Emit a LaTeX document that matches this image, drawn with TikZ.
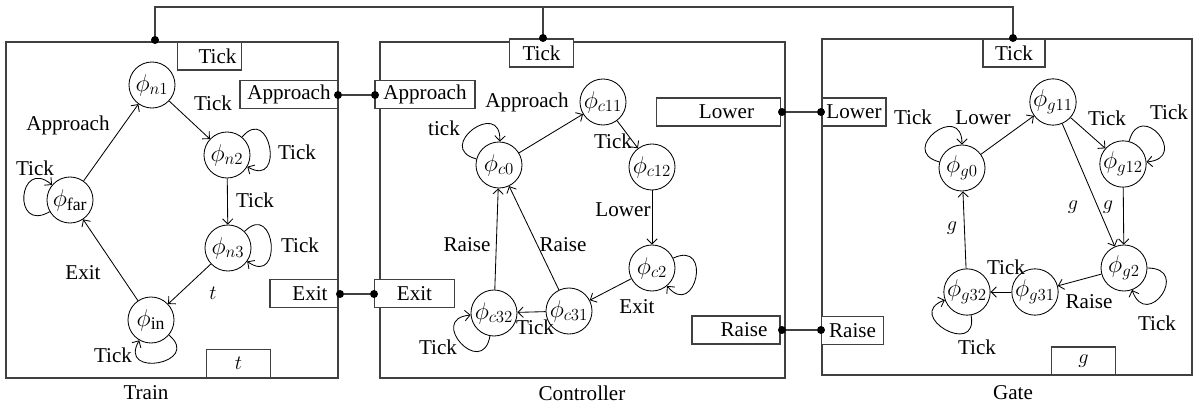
\documentclass[tikz,border=0pt]{standalone}
\usepackage{fontspec}
\setmainfont{Liberation Serif}
\usetikzlibrary{arrows.meta}

\begin{document}
\begin{tikzpicture}
      [%%%%%%%%%%%%%%%%%%%%%%%%%%%%%%
      x=0.025cm,y=-0.025cm,
      every node/.style={font=\fontsize{15}{17}\selectfont},
      comp/.style={rectangle,draw=black!75,line width=0.8pt,minimum height=8.4cm},
      port/.style={rectangle,draw=black!75,line width=0.8pt,fill=white,minimum height=0.7cm,inner sep=1pt},
      state/.style={circle,draw=black,line width=0.6pt,minimum size=1.15cm,inner sep=0pt,font=\fontsize{18}{20}\selectfont},
      dot/.style={circle,fill=black,inner sep=0pt,minimum size=0.2cm},
      wire/.style={draw=black!75,line width=0.8pt},
      tr/.style={line width=0.6pt,-{Straight Barb[length=1.3mm,width=2.6mm]}},
      selfloop/.style={looseness=1,min distance=11mm},
      lbl/.style={inner sep=0pt},
      ]%%%%%%%%%%%%%%%%%%%%%%%%%%%%%%
      \useasboundingbox (0,0) rectangle (1193,408);

      % the three components
      \node[comp,minimum width=8.3cm] (train) at (172,210){};
      \node[comp,minimum width=10.125cm] (ctrl) at (582.5,210){};
      \node[comp,minimum width=9.25cm] (gate) at (1007,207){};
      \node (trainname) at (146,393){Train};
      \node (ctrlname) at (582,393){Controller};
      \node (gatename) at (1013,393){Gate};

      % ports
      \node[port,minimum width=1.58cm] (trtick) at (209.5,56){\hspace{4mm}Tick};
      \node[port,minimum width=2.45cm] (trappr) at (289,94.5){Approach};
      \node[port,minimum width=1.7cm] (trexit) at (304,293.5){\hspace{3mm}Exit};
      \node[port,minimum width=1.58cm] (trt) at (238.5,363.5){$t$};
      \node[port,minimum width=1.58cm] (cttick) at (541.5,53){Tick};
      \node[port,minimum width=2.5cm] (ctappr) at (425,94.5){Approach};
      \node[port,minimum width=1.98cm] (ctexit) at (414.5,293.5){Exit};
      \node[port,minimum width=3.08cm] (ctlower) at (718.5,112){\hspace{4mm}Lower};
      \node[port,minimum width=2.2cm] (ctraise) at (736,330){\hspace{4mm}Raise};
      \node[port,minimum width=1.55cm] (gttick) at (1014,53){Tick};
      \node[port,minimum width=1.6cm] (gtlower) at (854,112){Lower};
      \node[port,minimum width=1.53cm] (gtraise) at (852.5,330.5){Raise};
      \node[port,minimum width=1.58cm] (gtg) at (1083.5,361){$g$};

      % wiring between the ports
      \coordinate (bus) at (0,7);
      \coordinate (dtrtick) at (155,40);
      \coordinate (dcttick) at (543,38);
      \coordinate (dgttick) at (1013,38);
      \draw[wire] (dtrtick) -- (dtrtick |- bus) -- (dgttick |- bus) -- (dgttick);
      \draw[wire] (dcttick) -- (dcttick |- bus);
      \node[dot] (dtra) at (338,95){};
      \node[dot] (dcta) at (375,95){};
      \node[dot] (dtre) at (340,294){};
      \node[dot] (dcte) at (374,294){};
      \node[dot] (dctl) at (782,112){};
      \node[dot] (dgtl) at (821,112){};
      \node[dot] (dctr) at (782,330){};
      \node[dot] (dgtr) at (821,330){};
      \draw[wire] (dtra) -- (dcta);
      \draw[wire] (dtre) -- (dcte);
      \draw[wire] (dctl) -- (dgtl);
      \draw[wire] (dctr) -- (dgtr);
      \node[dot] at (dtrtick){};
      \node[dot] at (dcttick){};
      \node[dot] at (dgttick){};

      % train automaton
      \node[state] (nfar) at (70,200){$\phi_{\mathrm{far}}$};
      \node[state] (n1) at (152,85){$\phi_{n1}$};
      \node[state] (n2) at (227,155){$\phi_{n2}$};
      \node[state] (n3) at (228,248){$\phi_{n3}$};
      \node[state] (nin) at (151,320){$\phi_{\mathrm{in}}$};
      \draw[tr] (nfar) -- (n1);
      \draw[tr] (n1) -- (n2);
      \draw[tr] (n2) -- (n3);
      \draw[tr] (n3) -- (nin);
      \draw[tr] (nin) -- (nfar);
      \path[tr] (nfar) edge[selfloop,out=210,in=140] (nfar);
      \path[tr] (n2) edge[selfloop,out=50,in=-30] (n2);
      \path[tr] (n3) edge[selfloop,out=45,in=-35] (n3);
      \path[tr] (nin) edge[selfloop,out=-40,in=-120] (nin);
      \node[lbl] (l1) at (68,125){Approach};
      \node[lbl] (l2) at (213,103){Tick};
      \node[lbl] (l3) at (297,152){Tick};
      \node[lbl] (l4) at (255,200){Tick};
      \node[lbl] (l5) at (300,245){Tick};
      \node[lbl] (l6) at (213,293){$t$};
      \node[lbl] (l7) at (83,273){Exit};
      \node[lbl] (l8) at (113,355){Tick};
      \node[lbl] (l9) at (35,168){Tick};

      % controller automaton
      \node[state] (c0) at (499,165){$\phi_{c0}$};
      \node[state] (c11) at (603,102){$\phi_{c11}$};
      \node[state] (c12) at (652,167){$\phi_{c12}$};
      \node[state] (c2) at (652,268){$\phi_{c2}$};
      \node[state] (c31) at (569,311){$\phi_{c31}$};
      \node[state] (c32) at (494,313){$\phi_{c32}$};
      \draw[tr] (c0) -- (c11);
      \draw[tr] (c11) -- (c12);
      \draw[tr] (c12) -- (c2);
      \draw[tr] (c2) -- (c31);
      \draw[tr] (c31) -- (c32);
      \draw[tr] (c31) -- (c0);
      \draw[tr] (c32) -- (c0);
      \path[tr] (c0) edge[selfloop,out=165,in=88] (c0);
      \path[tr] (c2) edge[selfloop,out=25,in=-50] (c2);
      \path[tr] (c32) edge[selfloop,out=-100,in=185] (c32);
      \node[lbl] (m1) at (444,128){tick};
      \node[lbl] (m2) at (527,102){Approach};
      \node[lbl] (m3) at (613,141){Tick};
      \node[lbl] (m4) at (623,210){Lower};
      \node[lbl] (m5) at (637,307){Exit};
      \node[lbl] (m6) at (467,245){Raise};
      \node[lbl] (m7) at (563,245){Raise};
      \node[lbl] (m8) at (535,327){Tick};
      \node[lbl] (m9) at (438,347){Tick};

      % gate automaton
      \node[state] (g0) at (962,168){$\phi_{g0}$};
      \node[state] (g11) at (1053,102){$\phi_{g11}$};
      \node[state] (g12) at (1123,164){$\phi_{g12}$};
      \node[state] (g2) at (1124,268){$\phi_{g2}$};
      \node[state] (g31) at (1035,292){$\phi_{g31}$};
      \node[state] (g32) at (967,292){$\phi_{g32}$};
      \draw[tr] (g0) -- (g11);
      \draw[tr] (g11) -- (g12);
      \draw[tr] (g11) -- (g2);
      \draw[tr] (g12) -- (g2);
      \draw[tr] (g2) -- (g31);
      \draw[tr] (g31) -- (g32);
      \draw[tr] (g32) -- (g0);
      \path[tr] (g0) edge[selfloop,out=165,in=90] (g0);
      \path[tr] (g12) edge[selfloop,out=75,in=5] (g12);
      \path[tr] (g2) edge[selfloop,out=0,in=-70] (g2);
      \path[tr] (g32) edge[selfloop,out=-80,in=200] (g32);
      \node[lbl] (k1) at (913,117){Tick};
      \node[lbl] (k2) at (983,118){Lower};
      \node[lbl] (k3) at (1107,118){Tick};
      \node[lbl] (k4) at (1169,112){Tick};
      \node[lbl] (k5) at (1073,207){$g$};
      \node[lbl] (k6) at (1108,207){$g$};
      \node[lbl] (k7) at (952,228){$g$};
      \node[lbl] (k8) at (1006,267){Tick};
      \node[lbl] (k9) at (1089,302){Raise};
      \node[lbl] (k10) at (1157,323){Tick};
      \node[lbl] (k11) at (977,347){Tick};
\end{tikzpicture}
\end{document}
